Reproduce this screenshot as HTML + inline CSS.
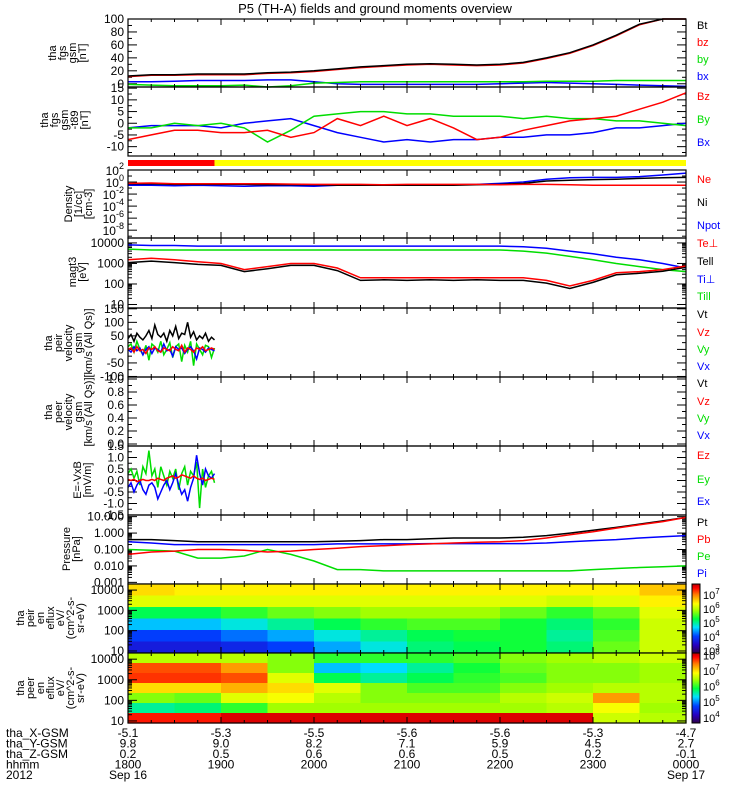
<!DOCTYPE html>
<html><head><meta charset="utf-8"><style>
html,body{margin:0;padding:0;background:#fff}
svg{display:block;font-family:"Liberation Sans",sans-serif}
</style></head><body>
<svg id="c" width="750" height="800" viewBox="0 0 750 800">
<text x="375" y="13" font-size="13" text-anchor="middle">P5 (TH-A) fields and ground moments overview</text>
<g id="g"></g>
</svg>
<script>
// ---- data (25 samples, 15-min cadence, 1800-0000 UT) ----
const fgsBt=[12,14,14,15,15,15,17,18,20,23,26,28,30,31,30,29,30,33,40,48,60,75,92,110,130];
const fgsBz=[11,13,13,14,14,14,16,17,19,22,25,27,29,30,29,28,29,32,39,47,59,74,91,109,129];
const fgsBy=[-1,-2,-3,-3,-3,-2,-5,-3,1,2,3,3,3,3,3,3,3,3,4,4,4,5,5,5,5];
const fgsBx=[3,3,4,5,5,5,6,6,3,0,-1,-1,-1,-1,-1,-1,0,1,2,1,0,-1,-2,-3,-4];
const dBz=[-7,-5,-3,-3,-4,-4,-3,-6,-4,2,-1,3,-1,2,-2,-7,-6,-3,-1,1,2,3,6,9,13];
const dBy=[-2,-2,0,-1,0,-2,-8,-3,3,4,5,5,4,4,3,3,3,2,3,2,2,1,1,0,-1];
const dBx=[-2,-1,-1,-1,-2,0,1,2,-1,-4,-6,-8,-7,-8,-7,-7,-6,-6,-5,-5,-4,-2,-2,-1,0];
const nNe=[0.6,0.7,0.5,0.5,0.5,0.5,0.5,0.45,0.4,0.4,0.4,0.35,0.4,0.4,0.4,0.4,0.35,0.4,0.4,0.35,0.3,0.3,0.3,0.3,0.3];
const nNi=[0.5,0.5,0.4,0.4,0.4,0.4,0.35,0.35,0.35,0.3,0.3,0.3,0.3,0.3,0.3,0.35,0.4,0.6,1.5,2,2.5,3,4,5,6];
const nPot=[0.3,0.3,0.25,0.3,0.25,0.2,0.25,0.25,0.2,0.3,0.3,0.3,0.3,0.3,0.35,0.4,0.6,1,3,5,6,6,8,15,30];
const tTeP=[1500,1800,1500,1200,1000,500,700,1000,1000,600,200,200,200,200,200,200,200,200,150,80,150,350,400,500,750];
const tTeL=[1100,1300,1100,900,800,400,550,800,800,450,150,160,150,160,150,160,150,150,110,60,120,280,330,420,650];
const tTiP=[8000,7500,7500,7000,7000,7000,7000,7000,7000,7000,7000,7000,7000,7000,7000,7000,7000,6500,5500,4000,3000,2000,1500,1000,600];
const tTiL=[5000,4500,4500,4500,4500,4500,4500,4500,4500,4500,4500,4500,4500,4500,4500,4500,4500,4000,3200,2200,1500,1000,700,500,400];
const pPt=[0.4,0.4,0.35,0.3,0.3,0.3,0.3,0.3,0.3,0.32,0.35,0.4,0.4,0.45,0.5,0.5,0.5,0.55,0.7,1,1.5,2.2,3.5,5.5,9];
const pPb=[0.05,0.07,0.08,0.1,0.1,0.09,0.07,0.08,0.1,0.12,0.15,0.17,0.2,0.22,0.25,0.28,0.3,0.35,0.5,0.8,1.2,2,3.2,5,9];
const pPe=[0.1,0.09,0.08,0.03,0.03,0.04,0.1,0.05,0.02,0.006,0.006,0.005,0.005,0.005,0.005,0.005,0.005,0.005,0.005,0.005,0.006,0.007,0.008,0.009,0.01];
const pPi=[0.3,0.25,0.2,0.2,0.2,0.2,0.2,0.2,0.2,0.22,0.22,0.22,0.22,0.23,0.23,0.23,0.23,0.23,0.25,0.3,0.35,0.4,0.5,0.6,0.7];
// short-span series (30 samples over first 0.155 of interval)
const vVt=[40,55,30,60,45,35,50,70,40,90,55,45,60,30,70,50,85,40,60,55,100,45,65,35,50,40,60,30,45,35];
const vVz=[0,5,-10,10,-5,0,-15,5,0,10,-5,-10,5,0,-5,10,0,-5,15,-10,5,0,-10,5,0,10,-5,0,5,0];
const vVy=[10,20,-10,30,0,-20,15,-40,20,10,-10,30,-20,0,25,-30,10,20,-45,15,-10,30,-60,20,0,-20,15,10,-30,5];
const vVx=[0,-10,10,-5,5,-20,0,10,-15,5,0,-10,20,-5,0,-25,10,0,5,-15,0,10,-5,-35,5,0,-10,5,0,-5];
const eEz=[0.05,0,0.05,-0.05,0,0.05,0,0,0.05,0,0.1,0.05,0,0.1,0.15,0.2,0.1,0.15,0.25,0.2,0.15,0.1,0.2,0.1,0.05,0.1,0,0.05,0.1,0.05];
const eEy=[0.3,0.5,0.1,0.4,-0.2,0.6,0.3,1.3,0.2,0.5,-0.3,0.6,0.2,-0.2,0.4,0.1,0.5,-0.4,0.3,0.6,-0.2,0.4,0.2,0.8,-1.2,0.5,-0.3,0.2,0.4,-0.1];
const eEx=[-0.3,-0.1,-0.5,-0.2,0,-0.4,-0.6,-0.2,-0.1,-0.3,-0.8,-0.5,-0.2,0,-0.4,-0.1,0.3,-0.2,-0.6,-0.4,-0.9,-0.3,0.1,1.1,0.3,-0.2,0.5,0.2,0.1,0.3];
// spectrograms (log10 flux), rows top(high E) -> bottom, 12 half-hour columns
const specIon=[
[6.4,6.3,6.3,6.3,6.3,6.3,6.3,6.3,6.3,6.3,6.3,6.5],
[6.1,6.1,6.1,6.1,6.1,6.1,6.1,6.1,6.1,6.0,6.1,6.3],
[5.2,5.2,5.4,5.6,5.7,5.8,5.8,5.8,5.6,5.4,5.6,6.1],
[4.6,4.6,4.8,5.0,5.2,5.4,5.5,5.5,5.3,5.1,5.4,6.0],
[4.1,4.1,4.3,4.5,4.8,5.0,5.2,5.3,5.3,5.0,5.5,6.0],
[3.8,3.8,3.9,4.1,4.5,4.8,5.1,5.2,5.3,5.1,5.6,6.0]];
const specEle=[
[6.5,6.5,6.5,6.3,6.0,6.0,6.0,6.1,6.3,6.4,6.5,6.6],
[7.6,7.6,7.3,6.3,5.2,5.3,5.6,5.9,6.2,6.3,6.3,6.4],
[7.7,7.7,7.6,6.7,5.8,5.6,5.8,6.0,6.1,6.3,6.3,6.4],
[7.0,7.0,7.2,7.0,6.7,6.3,6.1,6.1,6.3,6.4,6.5,6.5],
[6.3,6.2,6.7,6.8,6.5,6.3,6.3,6.3,6.5,6.6,7.3,6.5],
[5.6,5.7,6.0,6.4,6.4,6.4,6.4,6.4,6.4,6.5,6.8,6.4],
[7.8,7.8,8.0,8.0,8.0,8.0,8.0,8.0,8.0,8.0,6.6,6.5]];
const posX=["-5.1","-5.3","-5.5","-5.6","-5.6","-5.3","-4.7"];
const posY=["9.8","9.0","8.2","7.1","5.9","4.5","2.7"];
const posZ=["0.2","0.5","0.6","0.6","0.5","0.2","-0.1"];
const hhmm=["1800","1900","2000","2100","2200","2300","0000"];

const NS="http://www.w3.org/2000/svg";
const G=document.getElementById('g');
const X0=128,X1=686;
function X(t){return X0+t*(X1-X0);}
function el(tag,at,par){const e=document.createElementNS(NS,tag);for(const k in at)e.setAttribute(k,at[k]);(par||G).appendChild(e);return e;}
function lin(lo,hi,top,bot){return v=>bot-(v-lo)/(hi-lo)*(bot-top);}
function lg(lo,hi,top,bot){return v=>bot-(Math.log10(v)-lo)/(hi-lo)*(bot-top);}
function line(arr,ys,col,t1,name,top,bot){
  const n=arr.length;let pts=[];
  arr.forEach((v,i)=>{let y=ys(v);y=Math.max(top,Math.min(bot,y));pts.push(X(i/(n-1)*t1).toFixed(1)+','+y.toFixed(1));});
  const p=el('polyline',{points:pts.join(' '),fill:'none',stroke:col,'stroke-width':1.5});
  
  
}
function frame(top,bot,name){
  const r=el('rect',{x:X0,y:top,width:X1-X0,height:bot-top,fill:'none',stroke:'#000','stroke-width':1.2});
  
  
  for(let i=0;i<=24;i++){const x=X(i/24),L=i%4==0?6:3;
    el('line',{x1:x,x2:x,y1:top,y2:top+L,stroke:'#000'});el('line',{x1:x,x2:x,y1:bot,y2:bot-L,stroke:'#000'});}
}
function ytick(y,lab,major){
  const L=major?9:4;
  el('line',{x1:X0,x2:X0+L,y1:y,y2:y,stroke:'#000'});el('line',{x1:X1,x2:X1-L,y1:y,y2:y,stroke:'#000'});
  if(lab!==null&&lab!==undefined){const t=el('text',{x:X0-4,y:y+4,'font-size':12,'text-anchor':'end'});t.textContent=lab;
    
    }
}
function supLab(y,e){const t=el('text',{x:X0-4,y:y+5,'font-size':12,'text-anchor':'end'});t.innerHTML='10<tspan dy="-6" font-size="9">'+e+'</tspan>';
  
  }
function ytitle(lines,cy,name,x){
  const g=el('g',{transform:'translate('+(x||0)+','+cy+') rotate(-90)'});
  
  
  const n=lines.length;
  lines.forEach((s,i)=>{const t=el('text',{x:0,y:0,'font-size':11,'text-anchor':'middle',transform:'translate(0,'+(0-(n-1-i)*10)+')'},g);t.textContent=s;});
}
function rlab(items,ys){items.forEach((it,i)=>{const t=el('text',{x:697,y:ys[i]+4,'font-size':11,fill:it[1]});t.textContent=it[0];
  
  });}
const STOPS=[[0,[48,0,64]],[0.12,[40,0,192]],[0.25,[0,64,255]],[0.38,[0,224,255]],[0.5,[0,255,64]],[0.62,[160,255,0]],[0.72,[255,255,0]],[0.85,[255,128,0]],[0.95,[255,0,0]],[1,[192,0,0]]];
function cmap(f){f=Math.max(0,Math.min(1,f));for(let i=1;i<STOPS.length;i++){if(f<=STOPS[i][0]){const a=STOPS[i-1],b=STOPS[i],u=(f-a[0])/(b[0]-a[0]);
  return 'rgb('+a[1].map((c,k)=>Math.round(c+(b[1][k]-c)*u)).join(',')+')';}}return 'rgb(192,0,0)';}
function spec(grid,top,bot,lo,hi,name){
  const g=el('g',{});
  const R=grid.length,C=grid[0].length,h=(bot-top)/R,w=(X1-X0)/C;
  grid.forEach((row,r)=>row.forEach((v,c)=>{el('rect',{x:X0+c*w,y:top+r*h,width:w+0.6,height:h+0.6,fill:cmap((v-lo)/(hi-lo))},g);}));
}
function cbar(top,bot,lo,hi,labs,name){
  const g=el('g',{});
  for(let y=top;y<bot;y++)el('rect',{x:692,y:y,width:8,height:1.2,fill:cmap((bot-y)/(bot-top))},g);
  el('rect',{x:692,y:top,width:8,height:bot-top,fill:'none',stroke:'#000'},g);
  labs.forEach(e=>{const y=bot-(e-lo)/(hi-lo)*(bot-top);const t=el('text',{x:703,y:y+5,'font-size':11},g);t.innerHTML='10<tspan dy="-5" font-size="8">'+e+'</tspan>';});
}

// Panel 1
let P=[19,87];let ys=lin(-5,100,P[0],P[1]);
[0,20,40,60,80,100].forEach(v=>ytick(ys(v),v,true));for(let v=10;v<100;v+=20)ytick(ys(v),null,false);
line(fgsBx,ys,'#0000ff',1,'bx-line',P[0],P[1]);line(fgsBy,ys,'#00dd00',1,'by-line',P[0],P[1]);
line(fgsBz,ys,'#ff0000',1,'bz-line',P[0],P[1]);line(fgsBt,ys,'#000',1,'bt-line',P[0],P[1]);
frame(P[0],P[1],'fgs-gsm-panel');ytitle(['tha','fgs','gsm','[nT]'],53,'fgs-y-title',86);
rlab([['Bt','#000'],['bz','#f00'],['by','#0d0'],['bx','#00f']],[25,42,59,76]);
// Panel 2
P=[87,156];ys=lin(-14,15.5,P[0],P[1]);
[15,10,5,0,-5,-10].forEach(v=>ytick(ys(v),v,true));for(let v=-12.5;v<15;v+=5)ytick(ys(v),null,false);
line(dBx,ys,'#0000ff',1,'dbx-line',P[0],P[1]);line(dBy,ys,'#00dd00',1,'dby-line',P[0],P[1]);line(dBz,ys,'#ff0000',1,'dbz-line',P[0],P[1]);
frame(P[0],P[1],'fgs-dt-panel');ytitle(['tha','fgs','gsm','-t89','[nT]'],120,'fgs-dt-y-title',88);
rlab([['Bz','#f00'],['By','#0d0'],['Bx','#00f']],[96,119,142]);
// mode bar
el('rect',{x:X0,y:160,width:X(0.155)-X0,height:6,fill:'#ff0000',});
el('rect',{x:X(0.155),y:160,width:X1-X(0.155),height:6,fill:'#ffff00',});
// Panel 3
P=[170,238];ys=lg(-9.3,2,P[0],P[1]);
[2,0,-2,-4,-6,-8].forEach(e=>{ytick(ys(Math.pow(10,e)),null,true);supLab(ys(Math.pow(10,e)),e);});
for(let e=-9;e<2;e+=2)ytick(ys(Math.pow(10,e)),null,false);
line(nPot,ys,'#0000ff',1,'npot-line',P[0],P[1]);line(nNi,ys,'#000',1,'ni-line',P[0],P[1]);line(nNe,ys,'#ff0000',1,'ne-line',P[0],P[1]);
frame(P[0],P[1],'density-panel');ytitle(['Density','[1/cc]','[cm-3]'],204,'density-y-title',92);
rlab([['Ne','#f00'],['Ni','#000'],['Npot','#00f']],[179,202,225]);
// Panel 4
P=[238,308];ys=lg(0.83,4.24,P[0],P[1]);
[10,100,1000,10000].forEach(v=>ytick(ys(v),v,true));
[10,100,1000].forEach(b=>{for(let k=2;k<10;k++)ytick(ys(b*k),null,false);});
line(tTiP,ys,'#0000ff',1,'ti-perp-line',P[0],P[1]);line(tTiL,ys,'#00dd00',1,'ti-par-line',P[0],P[1]);
line(tTeL,ys,'#000',1,'te-par-line',P[0],P[1]);line(tTeP,ys,'#ff0000',1,'te-perp-line',P[0],P[1]);
frame(P[0],P[1],'temperature-panel');ytitle(['magt3','[eV]'],272,'temperature-y-title',86);
rlab([['Te⊥','#f00'],['Tell','#000'],['Ti⊥','#00f'],['Till','#0d0']],[243,261,279,296]);
// Panel 5
P=[308,377];ys=lin(-102,153,P[0],P[1]);
[150,100,50,0,-50,-100].forEach(v=>ytick(ys(v),v,true));for(let v=-75;v<150;v+=50)ytick(ys(v),null,false);
line(vVt,ys,'#000',0.155,'vt-line',P[0],P[1]);line(vVy,ys,'#00dd00',0.155,'vy-line',P[0],P[1]);
line(vVx,ys,'#0000ff',0.155,'vx-line',P[0],P[1]);line(vVz,ys,'#ff0000',0.155,'vz-line',P[0],P[1]);
frame(P[0],P[1],'ion-velocity-panel');ytitle(['tha','peir','velocity','gsm','[km/s (All Qs)]'],343,'ion-velocity-y-title',92);
rlab([['Vt','#000'],['Vz','#f00'],['Vy','#0d0'],['Vx','#00f']],[314,332,349,366]);
// Panel 6
P=[377,446];ys=lin(0,1,P[0]+2,P[1]-2);
[0,0.2,0.4,0.6,0.8,1].forEach(v=>ytick(ys(v),v.toFixed(1),true));for(let v=0.1;v<1;v+=0.2)ytick(ys(v),null,false);
frame(P[0],P[1],'electron-velocity-panel');ytitle(['tha','peer','velocity','gsm','[km/s (All Qs)]'],412,'electron-velocity-y-title',92);
rlab([['Vt','#000'],['Vz','#f00'],['Vy','#0d0'],['Vx','#00f']],[383,401,418,435]);
// Panel 7
P=[446,515];ys=lin(-1.5,1.5,P[0],P[1]);
[1.5,1,0.5,0,-0.5,-1,-1.5].forEach(v=>ytick(ys(v),v.toFixed(1),true));for(let v=-1.25;v<1.5;v+=0.5)ytick(ys(v),null,false);
line(eEy,ys,'#00dd00',0.155,'ey-line',P[0],P[1]);line(eEx,ys,'#0000ff',0.155,'ex-line',P[0],P[1]);line(eEz,ys,'#ff0000',0.155,'ez-line',P[0],P[1]);
frame(P[0],P[1],'efield-panel');ytitle(['E=-VxB','[mV/m]'],480,'efield-y-title',91);
rlab([['Ez','#f00'],['Ey','#0d0'],['Ex','#00f']],[455,479,501]);
// Panel 8
P=[515,584];ys=lg(-3.1,1.1,P[0],P[1]);
[[10,'10.000'],[1,'1.000'],[0.1,'0.100'],[0.01,'0.010'],[0.001,'0.001']].forEach(a=>ytick(ys(a[0]),a[1],true));
[0.001,0.01,0.1,1].forEach(b=>{for(let k=2;k<10;k++)ytick(ys(b*k),null,false);});
line(pPe,ys,'#00dd00',1,'pe-line',P[0],P[1]);line(pPi,ys,'#0000ff',1,'pi-line',P[0],P[1]);
line(pPt,ys,'#000',1,'pt-line',P[0],P[1]);line(pPb,ys,'#ff0000',1,'pb-line',P[0],P[1]);
frame(P[0],P[1],'pressure-panel');ytitle(['Pressure','[nPa]'],549,'pressure-y-title',80);
rlab([['Pt','#000'],['Pb','#f00'],['Pe','#0d0'],['Pi','#00f']],[522,539,556,573]);
// Panel 9
P=[584,653];spec(specIon,P[0],P[1],3,7.5,'ion-spectrogram');ys=lg(0.9,4.3,P[0],P[1]);
[10,100,1000,10000].forEach(v=>ytick(ys(v),v,true));
[10,100,1000,10000].forEach(b=>{for(let k=2;k<10;k++)if(b*k<20000)ytick(ys(b*k),null,false);});
frame(P[0],P[1],'ion-spectrogram-panel');ytitle(['tha','peir','en','eflux','eV/','(cm^2-s-','sr-eV)'],618,'ion-spec-y-title',84);
cbar(P[0],P[1],2.8,7.7,[3,4,5,6,7],'ion-colorbar');
// Panel 10
P=[653,723];spec(specEle,P[0],P[1],3.6,8.1,'electron-spectrogram');ys=lg(0.9,4.3,P[0],P[1]);
[10,100,1000,10000].forEach(v=>ytick(ys(v),v,true));
[10,100,1000,10000].forEach(b=>{for(let k=2;k<10;k++)if(b*k<20000)ytick(ys(b*k),null,false);});
frame(P[0],P[1],'electron-spectrogram-panel');ytitle(['tha','peer','en','eflux','eV/','(cm^2-s-','sr-eV)'],688,'electron-spec-y-title',84);
cbar(P[0],P[1],3.6,8.1,[4,5,6,7,8],'electron-colorbar');
// bottom annotation
const rows=[['tha_X-GSM',posX],['tha_Y-GSM',posY],['tha_Z-GSM',posZ],['hhmm',hhmm]];
rows.forEach((r,j)=>{const y=737+j*10.5;const t=el('text',{x:6,y:y,'font-size':12});t.textContent=r[0];
  
  r[1].forEach((s,i)=>{const u=el('text',{x:X(i/6),y:y,'font-size':12,'text-anchor':'middle'});u.textContent=s;
    });});
let t=el('text',{x:6,y:779,'font-size':12});t.textContent='2012';
t=el('text',{x:X(0),y:779,'font-size':12,'text-anchor':'middle'});t.textContent='Sep 16';
t=el('text',{x:X(1),y:779,'font-size':12,'text-anchor':'middle'});t.textContent='Sep 17';
</script>
</body></html>
